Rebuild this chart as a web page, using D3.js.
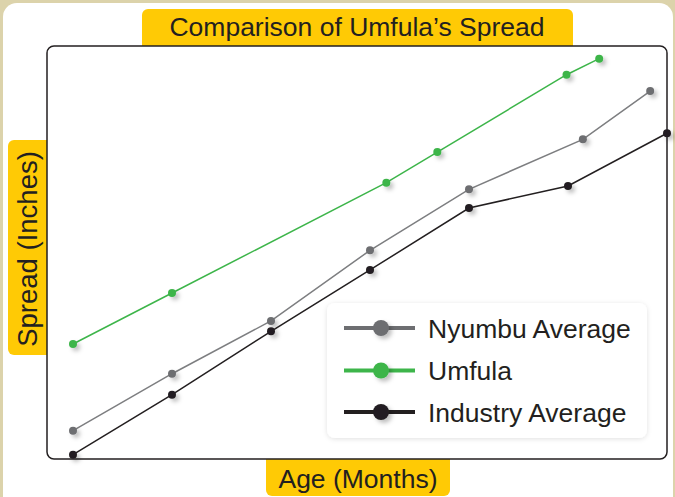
<!DOCTYPE html>
<html><head><meta charset="utf-8">
<script src="https://cdn.jsdelivr.net/npm/d3@7"></script>
<style>html,body{margin:0;padding:0;background:#d9d0a8;}svg{display:block;}</style>
</head><body>
<script>
// ---- data ----
const seriesNames = ["Nyumbu Average", "Umfula", "Industry Average"];
const nyumbuMonths = [0, 2, 4, 6, 8, 10.3, 11.66];
const nyumbuSpread = [2.74, 8.26, 13.37, 20.21, 26.12, 30.96, 35.64];
const umfulaMonths = [0, 2, 6.33, 7.36, 9.97, 10.63];
const umfulaSpread = [11.14, 16.08, 26.76, 29.73, 37.22, 38.77];
const industryMonths = [0, 2, 4, 6, 8, 10, 12];
const industrySpread = [0.42, 6.23, 12.37, 18.31, 24.31, 26.44, 31.55];
const chartTitle = "Comparison of Umfula’s Spread";
const xTitle = "Age (Months)";
const yTitle = "Spread (Inches)";

const W = 675, H = 497;
const svg = d3.select("body").append("svg").attr("width", W).attr("height", H);
const defs = svg.append("defs");
const f1 = defs.append("filter").attr("id","dotShadow").attr("x","-100%").attr("y","-100%").attr("width","300%").attr("height","300%");
f1.append("feDropShadow").attr("dx",3).attr("dy",3).attr("stdDeviation",2).attr("flood-color","#000").attr("flood-opacity",0.25);
const f2 = defs.append("filter").attr("id","boxShadow").attr("x","-20%").attr("y","-20%").attr("width","140%").attr("height","140%");
f2.append("feDropShadow").attr("dx",0).attr("dy",1).attr("stdDeviation",2.5).attr("flood-color","#000").attr("flood-opacity",0.12);

// page background & card
svg.append("rect").attr("width", W).attr("height", H).attr("fill", "#dcd3ab");
svg.append("rect").attr("x", 3).attr("y", 3).attr("width", 670).attr("height", 540).attr("rx", 14).attr("fill", "#ffffff");

const frame = {l: 47, r: 667, t: 46, b: 459};
const yellow = "#ffca05";
const font = "'Liberation Sans', Arial, Helvetica, sans-serif";

// label boxes (drawn before frame so frame covers inner parts)
svg.append("rect").attr("x", 142).attr("y", 9).attr("width", 431).attr("height", 50).attr("rx", 6).attr("fill", yellow);
svg.append("rect").attr("x", 266).attr("y", 445).attr("width", 184).attr("height", 51).attr("rx", 6).attr("fill", yellow);
svg.append("rect").attr("x", 8).attr("y", 140).attr("width", 50).attr("height", 215).attr("rx", 6).attr("fill", yellow);

// plot frame
svg.append("rect").attr("x", frame.l).attr("y", frame.t).attr("width", frame.r - frame.l).attr("height", frame.b - frame.t)
  .attr("rx", 7).attr("fill", "#ffffff").attr("stroke", "#231f20").attr("stroke-width", 1.5);

// titles
svg.append("text").attr("x", 357).attr("y", 36).attr("text-anchor", "middle").attr("font-family", font)
  .attr("font-size", 26.5).attr("fill", "#231f20").text(chartTitle);
svg.append("text").attr("x", 358).attr("y", 487.5).attr("text-anchor", "middle").attr("font-family", font)
  .attr("font-size", 26.5).attr("fill", "#231f20").text(xTitle);
svg.append("text").attr("transform", "translate(37,249) rotate(-90)").attr("text-anchor", "middle").attr("font-family", font)
  .attr("font-size", 27.5).attr("fill", "#231f20").text(yTitle);

// scales
const x = d3.scaleLinear().domain([0, 12]).range([73, 667]);
const y = d3.scaleLinear().domain([0, 40]).range([459, 46]);

const series = [
  {name: seriesNames[0], xs: nyumbuMonths, ys: nyumbuSpread, line: "#7d7e80", dot: "#6d6e71"},
  {name: seriesNames[1], xs: umfulaMonths, ys: umfulaSpread, line: "#3db54a", dot: "#3db54a"},
  {name: seriesNames[2], xs: industryMonths, ys: industrySpread, line: "#231f20", dot: "#231f20"}
];

const lineGen = d3.line().x(d => x(d[0])).y(d => y(d[1]));
const drawOrder = [0, 2, 1];
drawOrder.forEach(i => {
  const s = series[i];
  const pts = s.xs.map((m, j) => [m, s.ys[j]]);
  svg.append("path").datum(pts).attr("d", lineGen).attr("fill", "none").attr("stroke", s.line).attr("stroke-width", 1.5);
  svg.append("g").selectAll("circle").data(pts).join("circle")
    .attr("cx", d => x(d[0])).attr("cy", d => y(d[1])).attr("r", 4)
    .attr("fill", s.dot).attr("filter", "url(#dotShadow)");
});

// legend
const lg = svg.append("g");
lg.append("rect").attr("x", 327).attr("y", 303).attr("width", 320).attr("height", 135).attr("rx", 8)
  .attr("fill", "#ffffff").attr("filter", "url(#boxShadow)");
const rowY = [328, 370.5, 412];
series.forEach((s, i) => {
  const g = lg.append("g").attr("transform", `translate(0,${rowY[i]})`);
  g.append("line").attr("x1", 344).attr("x2", 415).attr("y1", 0).attr("y2", 0).attr("stroke", s.dot).attr("stroke-width", 4);
  g.append("circle").attr("cx", 381).attr("cy", 0).attr("r", 8).attr("fill", s.dot).attr("filter", "url(#dotShadow)");
  g.append("text").attr("x", 428).attr("y", 9.5).attr("font-family", font).attr("font-size", 26.5).attr("fill", "#231f20").text(s.name);
});
</script>
</body></html>
